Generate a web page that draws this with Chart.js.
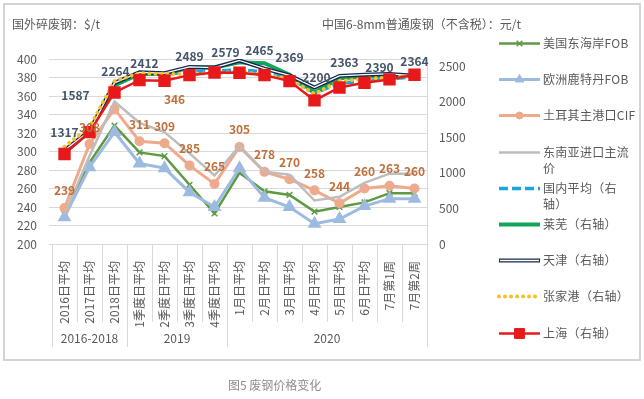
<!DOCTYPE html>
<html>
<head>
<meta charset="utf-8">
<script src="https://cdn.jsdelivr.net/npm/chart.js@4.4.0/dist/chart.umd.min.js"></script>
<style>
  html, body { margin: 0; padding: 0; background: #fff; }
  #wrap { position: relative; width: 644px; height: 399px; }
</style>
</head>
<body>
<div id="wrap"><canvas id="chart" width="644" height="399"></canvas></div>
<script>
const categories = ['2016日平均', '2017日平均', '2018日平均', '1季度日平均', '2季度日平均', '3季度日平均', '4季度日平均',
  '1月日平均', '2月日平均', '3月日平均', '4月日平均', '5月日平均', '6月日平均', '7月第1周', '7月第2周'];
const groupNames = ['2016-2018', '2019', '2020'];
const groupSizes = [3, 4, 8];
const rightTicks = [0, 500, 1000, 1500, 2000, 2500];

// 国外 ($/t, left axis)
const usEastFob = [232, 288, 328, 299, 295, 264, 233, 277, 257, 253, 235, 240, 245, 255, 255];
const rotterdamFob = [229, 283, 321, 287, 282, 256, 240, 282, 250, 240, 222, 227, 241, 249, 249];
const turkeyCif = [239, 308, 346, 311, 309, 285, 265, 305, 278, 270, 258, 244, 260, 263, 260];
const seAsiaImport = [232, 295, 354, 331, 321, 298, 274, 306, 278, 275, 247, 251, 266, 276, 276];

// 国内 (元/t, right axis)
const domesticAvg = [1300, 1590, 2240, 2390, 2385, 2420, 2430, 2450, 2420, 2340, 2120, 2260, 2290, 2320, 2350];
const laiwu = [1300, 1570, 2230, 2390, 2390, 2480, 2480, 2555, 2540, 2380, 2130, 2330, 2350, 2370, 2360];
const tianjin = [1317, 1587, 2264, 2412, 2400, 2489, 2480, 2579, 2465, 2369, 2200, 2363, 2380, 2390, 2364];
const zhangjiagang = [1370, 1640, 2290, 2400, 2390, 2390, 2400, 2420, 2380, 2320, 2110, 2290, 2320, 2340, 2360];
const shanghai = [1264, 1573, 2130, 2303, 2294, 2373, 2411, 2406, 2373, 2289, 2018, 2200, 2265, 2313, 2378];

// data labels shown in the picture
const tianjinLabels = [1317, 1587, 2264, 2412, null, 2489, null, 2579, 2465, 2369, 2200, 2363, null, 2390, 2364];
const turkeyLabels = [239, 308, 346, 311, 309, 285, 265, 305, 278, 270, 258, 244, 260, 263, 260];

const FONT = "'Noto Sans CJK SC', 'Noto Sans', sans-serif";
const TEXT = '#595959';
const GRID = '#d9d9d9';
Chart.defaults.font.family = FONT;
Chart.defaults.font.size = 12;
Chart.defaults.color = TEXT;

function line(label, data, axis, color, extra) {
  return Object.assign({
    label: label, data: data, yAxisID: axis,
    borderColor: color, backgroundColor: color,
    borderWidth: 2.5, pointRadius: 0, pointHoverRadius: 0,
    tension: 0, fill: false
  }, extra || {});
}

const datasets = [
  line('美国东海岸FOB', usEastFob, 'y', '#5e9a42', { pointStyle: 'crossRot', pointRadius: 4, pointBorderWidth: 1.5 }),
  line('欧洲鹿特丹FOB', rotterdamFob, 'y', '#9dbbe0', { borderWidth: 3, pointStyle: 'triangle', pointRadius: 5 }),
  line('土耳其主港口CIF', turkeyCif, 'y', '#eeaa8c', { borderWidth: 3, pointStyle: 'circle', pointRadius: 3.5,
    valueLabels: turkeyLabels, labelColor: '#c0703a', labelDy: -17, labelNudge: { 2: [60, -10] } }),
  line('东南亚进口主流价', seAsiaImport, 'y', '#bdbdbd', { borderWidth: 2.5 }),
  line('国内平均（右轴）', domesticAvg, 'y1', '#1aa5e0', { borderWidth: 3.5, borderDash: [9, 4] }),
  line('莱芜（右轴）', laiwu, 'y1', '#12a55a', { borderWidth: 4 }),
  line('天津（右轴）', tianjin, 'y1', '#14284b', { borderWidth: 4, doubleLine: true,
    valueLabels: tianjinLabels, labelColor: '#44546a', labelDy: -14,
    labelNudge: { 0: [0, -18], 1: [-14, -36], 2: [1, -11], 3: [5, -9], 5: [0, -10], 7: [-14, -8],
      8: [-5, -18], 9: [0, -18], 10: [2, -10], 11: [5, -13], 13: [-10, -7] } }),
  line('张家港（右轴）', zhangjiagang, 'y1', '#f5c02a', { borderWidth: 4, borderDash: [0.01, 6], borderCapStyle: 'round' }),
  line('上海（右轴）', shanghai, 'y1', '#e8191b', { borderWidth: 2.5, pointStyle: 'rect', pointRadius: 7 })
];
datasets.forEach((d, i) => { d.order = datasets.length - i; });

const framePlugin = {
  id: 'frame',
  beforeDraw(chart) {
    const ctx = chart.ctx;
    ctx.save();
    ctx.fillStyle = '#fff';
    ctx.fillRect(0, 0, chart.width, chart.height);
    ctx.strokeStyle = '#d4d4d4';
    ctx.lineWidth = 2;
    ctx.strokeRect(4, 4, 636, 356);
    ctx.fillStyle = TEXT;
    ctx.font = '12px ' + FONT;
    ctx.textBaseline = 'middle';
    ctx.fillText('国外碎废钢：$/t', 12, 24);
    ctx.fillText('中国6-8mm普通废钢（不含税）：元/t', 322, 24);
    ctx.fillStyle = '#8c8c8c';
    ctx.fillText('图5 废钢价格变化', 228, 385);
    ctx.restore();
  }
};

const doubleLinePlugin = {
  id: 'doubleLine',
  afterDatasetDraw(chart, args) {
    const ds = chart.data.datasets[args.index];
    if (!ds.doubleLine) return;
    const pts = args.meta.data;
    const ctx = chart.ctx;
    ctx.save();
    ctx.strokeStyle = '#fff';
    ctx.lineWidth = 1.3;
    ctx.lineJoin = 'round';
    ctx.beginPath();
    pts.forEach((p, j) => { j ? ctx.lineTo(p.x, p.y) : ctx.moveTo(p.x, p.y); });
    ctx.stroke();
    ctx.restore();
  }
};

const valueLabelPlugin = {
  id: 'valueLabels',
  afterDatasetsDraw(chart) {
    const ctx = chart.ctx;
    chart.data.datasets.forEach((ds, i) => {
      if (!ds.valueLabels) return;
      const meta = chart.getDatasetMeta(i);
      ctx.save();
      ctx.font = 'bold 12px ' + FONT;
      ctx.fillStyle = ds.labelColor;
      ctx.textAlign = 'center';
      ctx.textBaseline = 'middle';
      ds.valueLabels.forEach((v, j) => {
        if (v == null) return;
        const p = meta.data[j];
        const n = (ds.labelNudge && ds.labelNudge[j]) || [0, ds.labelDy];
        ctx.fillText(String(v), p.x + n[0], p.y + n[1]);
      });
      ctx.restore();
    });
  }
};

const groupAxisPlugin = {
  id: 'groupAxis',
  afterDraw(chart) {
    const ctx = chart.ctx;
    const xs = chart.scales.x;
    const ca = chart.chartArea;
    const n = categories.length;
    const half = (xs.getPixelForTick(1) - xs.getPixelForTick(0)) / 2;
    const starts = [0];
    groupSizes.forEach((s, k) => starts.push(starts[k] + s));
    ctx.save();
    ctx.strokeStyle = GRID;
    ctx.lineWidth = 1;
    for (let i = 0; i <= n; i++) {
      const bx = Math.round(i < n ? xs.getPixelForTick(i) - half : xs.getPixelForTick(n - 1) + half) + 0.5;
      const isGroup = starts.includes(i);
      ctx.beginPath();
      ctx.moveTo(bx, ca.bottom);
      ctx.lineTo(bx, isGroup ? 347 : 322);
      ctx.stroke();
    }
    ctx.fillStyle = TEXT;
    ctx.font = '12px ' + FONT;
    ctx.textAlign = 'center';
    ctx.textBaseline = 'middle';
    groupNames.forEach((g, k) => {
      const a = xs.getPixelForTick(starts[k]) - half;
      const b = xs.getPixelForTick(starts[k + 1] - 1) + half;
      ctx.fillText(g, (a + b) / 2, 338);
    });
    ctx.restore();
  }
};

const noLineStart = '）)，。：';
const legendPlugin = {
  id: 'sideLegend',
  afterDraw(chart) {
    const ctx = chart.ctx;
    ctx.save();
    ctx.font = '12px ' + FONT;
    ctx.letterSpacing = '0.3px';
    chart.data.datasets.forEach((ds, i) => {
      const y = Math.round(43 + i * 36.2) + 0.5;
      ctx.save();
      ctx.strokeStyle = ds.borderColor;
      ctx.lineWidth = ds.borderWidth;
      ctx.lineCap = ds.borderCapStyle || 'butt';
      ctx.setLineDash(ds.borderDash || []);
      ctx.beginPath();
      ctx.moveTo(499, y);
      ctx.lineTo(540, y);
      ctx.stroke();
      if (ds.doubleLine) {
        ctx.strokeStyle = '#fff';
        ctx.lineWidth = 1.3;
        ctx.beginPath();
        ctx.moveTo(500, y);
        ctx.lineTo(539, y);
        ctx.stroke();
      }
      ctx.setLineDash([]);
      if (ds.pointRadius) {
        ctx.fillStyle = ds.borderColor;
        ctx.strokeStyle = ds.borderColor;
        ctx.lineWidth = ds.pointBorderWidth || 1;
        Chart.helpers.drawPoint(ctx, { pointStyle: ds.pointStyle, radius: ds.pointRadius, borderWidth: ds.pointBorderWidth || 1, rotation: 0 }, 519.5, y);
      }
      ctx.restore();
      // wrap text to the legend column: latin runs stay whole, closing brackets never start a line
      ctx.fillStyle = TEXT;
      ctx.textBaseline = 'middle';
      const tokens = ds.label.match(/[A-Za-z0-9]+|./gu);
      const lines = [];
      let cur = '';
      let last = '';
      tokens.forEach(tk => {
        if (cur && ctx.measureText(cur + tk).width > 96) {
          if (noLineStart.includes(tk) && last && cur.length > last.length) {
            lines.push(cur.slice(0, -last.length));
            cur = last + tk;
          } else {
            lines.push(cur);
            cur = tk;
          }
        } else cur += tk;
        last = tk;
      });
      lines.push(cur);
      lines.forEach((t, k) => ctx.fillText(t, 543, y + k * 16));
    });
    ctx.restore();
  }
};

new Chart(document.getElementById('chart'), {
  type: 'line',
  data: { labels: categories, datasets: datasets },
  plugins: [framePlugin, doubleLinePlugin, valueLabelPlugin, groupAxisPlugin, legendPlugin],
  options: {
    responsive: false,
    animation: false,
    layout: { padding: { top: 59, left: 0, right: 0, bottom: 0 } },
    plugins: { legend: { display: false }, tooltip: { enabled: false } },
    scales: {
      x: {
        offset: true,
        grid: { display: false },
        border: { display: false },
        ticks: { autoSkip: false, minRotation: 90, maxRotation: 90, padding: 9, color: TEXT, font: { size: 12 } },
        afterFit: s => { s.height = 155; }
      },
      y: {
        position: 'left', min: 200, max: 400,
        ticks: { stepSize: 20, padding: 12, color: TEXT, font: { size: 12 } },
        grid: { color: GRID, tickLength: 3 },
        border: { display: false },
        afterFit: s => { s.width = 52; }
      },
      y1: {
        position: 'right', min: 0, max: 2600,
        ticks: { padding: 12, color: TEXT, font: { size: 12 }, callback: v => String(v) },
        afterBuildTicks: s => { s.ticks = rightTicks.map(v => ({ value: v })); },
        grid: { drawOnChartArea: false, drawTicks: false },
        border: { display: true, color: GRID },
        afterFit: s => { s.width = 217; }
      }
    }
  }
});
</script>
</body>
</html>
